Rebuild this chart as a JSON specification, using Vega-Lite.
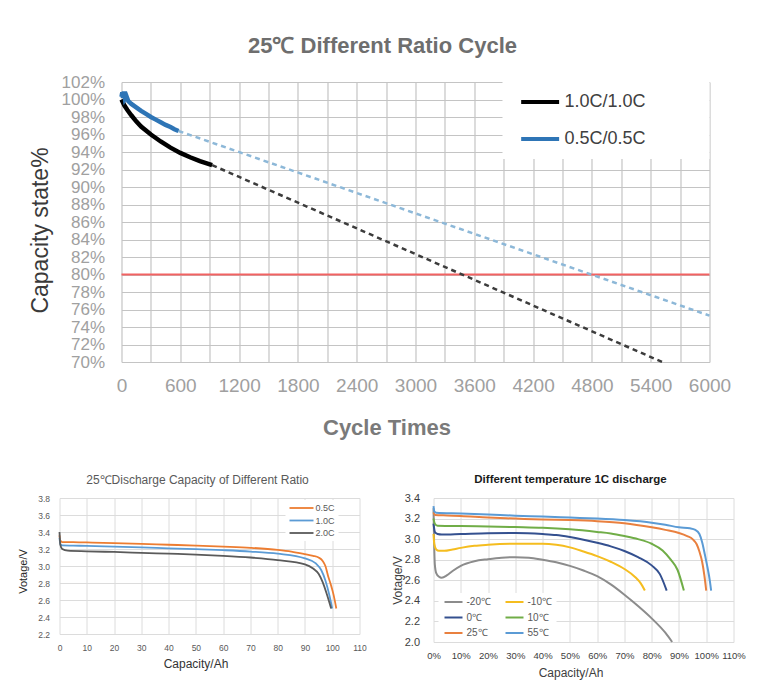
{
  "$schema": "https://vega.github.io/schema/vega-lite/v6.json",
  "background": "white",
  "padding": {"left": 17.5, "top": 35, "right": 5, "bottom": 5},
  "config": {
    "font": "Liberation Sans",
    "view": {"stroke": null},
    "axis": {"domain": false, "ticks": false, "grid": true, "labelFlush": false, "labelOverlap": false, "tickCount": 100, "titleAlign": "center", "titleBaseline": "middle", "titleFontWeight": "normal"}
  },
  "datasets": {
    "cycle": [
      {"series": "1.0C/1.0C", "kind": "measured", "cycle": 0, "capacity": 100},
      {"series": "1.0C/1.0C", "kind": "measured", "cycle": 30, "capacity": 99.3},
      {"series": "1.0C/1.0C", "kind": "measured", "cycle": 60, "capacity": 98.8},
      {"series": "1.0C/1.0C", "kind": "measured", "cycle": 100, "capacity": 98.2},
      {"series": "1.0C/1.0C", "kind": "measured", "cycle": 150, "capacity": 97.5},
      {"series": "1.0C/1.0C", "kind": "measured", "cycle": 200, "capacity": 96.9},
      {"series": "1.0C/1.0C", "kind": "measured", "cycle": 300, "capacity": 96.0},
      {"series": "1.0C/1.0C", "kind": "measured", "cycle": 400, "capacity": 95.2},
      {"series": "1.0C/1.0C", "kind": "measured", "cycle": 500, "capacity": 94.5},
      {"series": "1.0C/1.0C", "kind": "measured", "cycle": 600, "capacity": 93.9},
      {"series": "1.0C/1.0C", "kind": "measured", "cycle": 700, "capacity": 93.4},
      {"series": "1.0C/1.0C", "kind": "measured", "cycle": 800, "capacity": 92.95},
      {"series": "1.0C/1.0C", "kind": "measured", "cycle": 925, "capacity": 92.5},
      {"series": "0.5C/0.5C", "kind": "measured", "cycle": 0, "capacity": 100.3},
      {"series": "0.5C/0.5C", "kind": "measured", "cycle": 8, "capacity": 100.8},
      {"series": "0.5C/0.5C", "kind": "measured", "cycle": 15, "capacity": 100.2},
      {"series": "0.5C/0.5C", "kind": "measured", "cycle": 25, "capacity": 100.9},
      {"series": "0.5C/0.5C", "kind": "measured", "cycle": 35, "capacity": 100.1},
      {"series": "0.5C/0.5C", "kind": "measured", "cycle": 50, "capacity": 100.4},
      {"series": "0.5C/0.5C", "kind": "measured", "cycle": 70, "capacity": 99.8},
      {"series": "0.5C/0.5C", "kind": "measured", "cycle": 100, "capacity": 99.5},
      {"series": "0.5C/0.5C", "kind": "measured", "cycle": 150, "capacity": 99.1},
      {"series": "0.5C/0.5C", "kind": "measured", "cycle": 200, "capacity": 98.7},
      {"series": "0.5C/0.5C", "kind": "measured", "cycle": 250, "capacity": 98.35},
      {"series": "0.5C/0.5C", "kind": "measured", "cycle": 300, "capacity": 98.0},
      {"series": "0.5C/0.5C", "kind": "measured", "cycle": 350, "capacity": 97.7},
      {"series": "0.5C/0.5C", "kind": "measured", "cycle": 400, "capacity": 97.4},
      {"series": "0.5C/0.5C", "kind": "measured", "cycle": 450, "capacity": 97.1},
      {"series": "0.5C/0.5C", "kind": "measured", "cycle": 500, "capacity": 96.85},
      {"series": "0.5C/0.5C", "kind": "measured", "cycle": 540, "capacity": 96.6},
      {"series": "0.5C/0.5C", "kind": "measured", "cycle": 582, "capacity": 96.4},
      {"series": "1.0C/1.0C", "kind": "trend", "cycle": 925, "capacity": 92.5},
      {"series": "1.0C/1.0C", "kind": "trend", "cycle": 5517, "capacity": 70},
      {"series": "0.5C/0.5C", "kind": "trend", "cycle": 582, "capacity": 96.4},
      {"series": "0.5C/0.5C", "kind": "trend", "cycle": 6000, "capacity": 75.3}
    ],
    "ratio": [
      {"rate": "0.5C", "cap": 0, "v": 3.36}, {"rate": "0.5C", "cap": 0.3, "v": 3.3}, {"rate": "0.5C", "cap": 1, "v": 3.282},
      {"rate": "0.5C", "cap": 5, "v": 3.28}, {"rate": "0.5C", "cap": 10, "v": 3.277}, {"rate": "0.5C", "cap": 20, "v": 3.27},
      {"rate": "0.5C", "cap": 30, "v": 3.26}, {"rate": "0.5C", "cap": 40, "v": 3.25}, {"rate": "0.5C", "cap": 50, "v": 3.24},
      {"rate": "0.5C", "cap": 60, "v": 3.228}, {"rate": "0.5C", "cap": 70, "v": 3.214}, {"rate": "0.5C", "cap": 80, "v": 3.19},
      {"rate": "0.5C", "cap": 85, "v": 3.17}, {"rate": "0.5C", "cap": 90, "v": 3.14}, {"rate": "0.5C", "cap": 93, "v": 3.12},
      {"rate": "0.5C", "cap": 95, "v": 3.1}, {"rate": "0.5C", "cap": 96.5, "v": 3.06}, {"rate": "0.5C", "cap": 97.5, "v": 3.0},
      {"rate": "0.5C", "cap": 98.5, "v": 2.88}, {"rate": "0.5C", "cap": 99.5, "v": 2.78}, {"rate": "0.5C", "cap": 100.5, "v": 2.66},
      {"rate": "0.5C", "cap": 101.5, "v": 2.5},
      {"rate": "1.0C", "cap": 0, "v": 3.33}, {"rate": "1.0C", "cap": 0.3, "v": 3.26}, {"rate": "1.0C", "cap": 1, "v": 3.243},
      {"rate": "1.0C", "cap": 5, "v": 3.24}, {"rate": "1.0C", "cap": 10, "v": 3.236}, {"rate": "1.0C", "cap": 20, "v": 3.228},
      {"rate": "1.0C", "cap": 30, "v": 3.218}, {"rate": "1.0C", "cap": 40, "v": 3.208}, {"rate": "1.0C", "cap": 50, "v": 3.198},
      {"rate": "1.0C", "cap": 60, "v": 3.186}, {"rate": "1.0C", "cap": 70, "v": 3.17}, {"rate": "1.0C", "cap": 80, "v": 3.145},
      {"rate": "1.0C", "cap": 90, "v": 3.09}, {"rate": "1.0C", "cap": 94, "v": 3.03}, {"rate": "1.0C", "cap": 96, "v": 2.95},
      {"rate": "1.0C", "cap": 97.5, "v": 2.83}, {"rate": "1.0C", "cap": 99, "v": 2.65}, {"rate": "1.0C", "cap": 100, "v": 2.5},
      {"rate": "2.0C", "cap": 0, "v": 3.4}, {"rate": "2.0C", "cap": 0.3, "v": 3.25}, {"rate": "2.0C", "cap": 1, "v": 3.2},
      {"rate": "2.0C", "cap": 3, "v": 3.18}, {"rate": "2.0C", "cap": 10, "v": 3.173}, {"rate": "2.0C", "cap": 20, "v": 3.165},
      {"rate": "2.0C", "cap": 30, "v": 3.155}, {"rate": "2.0C", "cap": 40, "v": 3.145}, {"rate": "2.0C", "cap": 50, "v": 3.135},
      {"rate": "2.0C", "cap": 60, "v": 3.12}, {"rate": "2.0C", "cap": 70, "v": 3.1}, {"rate": "2.0C", "cap": 80, "v": 3.07},
      {"rate": "2.0C", "cap": 90, "v": 3.02}, {"rate": "2.0C", "cap": 93, "v": 2.97}, {"rate": "2.0C", "cap": 95, "v": 2.91},
      {"rate": "2.0C", "cap": 96.5, "v": 2.81}, {"rate": "2.0C", "cap": 98, "v": 2.67}, {"rate": "2.0C", "cap": 99.6, "v": 2.5}
    ],
    "temp": [
      {"t": "-20℃", "pct": 0, "v": 3.3}, {"t": "-20℃", "pct": 0.2, "v": 3.0}, {"t": "-20℃", "pct": 0.5, "v": 2.75},
      {"t": "-20℃", "pct": 1, "v": 2.67}, {"t": "-20℃", "pct": 2, "v": 2.635}, {"t": "-20℃", "pct": 3, "v": 2.625},
      {"t": "-20℃", "pct": 5, "v": 2.65}, {"t": "-20℃", "pct": 7, "v": 2.69}, {"t": "-20℃", "pct": 10, "v": 2.74},
      {"t": "-20℃", "pct": 15, "v": 2.785}, {"t": "-20℃", "pct": 20, "v": 2.805}, {"t": "-20℃", "pct": 25, "v": 2.82},
      {"t": "-20℃", "pct": 30, "v": 2.825}, {"t": "-20℃", "pct": 35, "v": 2.82}, {"t": "-20℃", "pct": 40, "v": 2.8},
      {"t": "-20℃", "pct": 45, "v": 2.775}, {"t": "-20℃", "pct": 50, "v": 2.74}, {"t": "-20℃", "pct": 55, "v": 2.695},
      {"t": "-20℃", "pct": 60, "v": 2.64}, {"t": "-20℃", "pct": 65, "v": 2.56}, {"t": "-20℃", "pct": 70, "v": 2.46},
      {"t": "-20℃", "pct": 75, "v": 2.35}, {"t": "-20℃", "pct": 80, "v": 2.23}, {"t": "-20℃", "pct": 85, "v": 2.09},
      {"t": "-20℃", "pct": 87.5, "v": 2.0},
      {"t": "-10℃", "pct": 0, "v": 3.05}, {"t": "-10℃", "pct": 0.3, "v": 2.95}, {"t": "-10℃", "pct": 1, "v": 2.9},
      {"t": "-10℃", "pct": 2, "v": 2.887}, {"t": "-10℃", "pct": 4, "v": 2.887}, {"t": "-10℃", "pct": 7, "v": 2.9},
      {"t": "-10℃", "pct": 10, "v": 2.915}, {"t": "-10℃", "pct": 15, "v": 2.935}, {"t": "-10℃", "pct": 20, "v": 2.945},
      {"t": "-10℃", "pct": 30, "v": 2.955}, {"t": "-10℃", "pct": 40, "v": 2.955}, {"t": "-10℃", "pct": 45, "v": 2.945},
      {"t": "-10℃", "pct": 50, "v": 2.92}, {"t": "-10℃", "pct": 55, "v": 2.88}, {"t": "-10℃", "pct": 60, "v": 2.835},
      {"t": "-10℃", "pct": 65, "v": 2.78}, {"t": "-10℃", "pct": 70, "v": 2.71}, {"t": "-10℃", "pct": 74, "v": 2.63},
      {"t": "-10℃", "pct": 76, "v": 2.57}, {"t": "-10℃", "pct": 77.5, "v": 2.5},
      {"t": "0℃", "pct": 0, "v": 3.15}, {"t": "0℃", "pct": 0.5, "v": 3.07}, {"t": "0℃", "pct": 1.5, "v": 3.05},
      {"t": "0℃", "pct": 3, "v": 3.045}, {"t": "0℃", "pct": 10, "v": 3.05}, {"t": "0℃", "pct": 20, "v": 3.058},
      {"t": "0℃", "pct": 30, "v": 3.06}, {"t": "0℃", "pct": 40, "v": 3.05}, {"t": "0℃", "pct": 45, "v": 3.04},
      {"t": "0℃", "pct": 50, "v": 3.02}, {"t": "0℃", "pct": 55, "v": 2.995}, {"t": "0℃", "pct": 60, "v": 2.965},
      {"t": "0℃", "pct": 65, "v": 2.93}, {"t": "0℃", "pct": 70, "v": 2.885}, {"t": "0℃", "pct": 75, "v": 2.825},
      {"t": "0℃", "pct": 80, "v": 2.745}, {"t": "0℃", "pct": 83, "v": 2.66}, {"t": "0℃", "pct": 85.5, "v": 2.5},
      {"t": "10℃", "pct": 0, "v": 3.2}, {"t": "10℃", "pct": 0.5, "v": 3.15}, {"t": "10℃", "pct": 1.5, "v": 3.13},
      {"t": "10℃", "pct": 5, "v": 3.128}, {"t": "10℃", "pct": 10, "v": 3.127}, {"t": "10℃", "pct": 20, "v": 3.123},
      {"t": "10℃", "pct": 30, "v": 3.117}, {"t": "10℃", "pct": 40, "v": 3.11}, {"t": "10℃", "pct": 50, "v": 3.095},
      {"t": "10℃", "pct": 60, "v": 3.07}, {"t": "10℃", "pct": 65, "v": 3.055}, {"t": "10℃", "pct": 70, "v": 3.03},
      {"t": "10℃", "pct": 75, "v": 3.0}, {"t": "10℃", "pct": 80, "v": 2.955}, {"t": "10℃", "pct": 84, "v": 2.89},
      {"t": "10℃", "pct": 87, "v": 2.8}, {"t": "10℃", "pct": 89.5, "v": 2.7}, {"t": "10℃", "pct": 91.8, "v": 2.5},
      {"t": "25℃", "pct": 0, "v": 3.26}, {"t": "25℃", "pct": 0.5, "v": 3.235}, {"t": "25℃", "pct": 5, "v": 3.23},
      {"t": "25℃", "pct": 10, "v": 3.225}, {"t": "25℃", "pct": 20, "v": 3.21}, {"t": "25℃", "pct": 30, "v": 3.2},
      {"t": "25℃", "pct": 40, "v": 3.19}, {"t": "25℃", "pct": 50, "v": 3.185}, {"t": "25℃", "pct": 60, "v": 3.175},
      {"t": "25℃", "pct": 70, "v": 3.155}, {"t": "25℃", "pct": 80, "v": 3.115}, {"t": "25℃", "pct": 85, "v": 3.09},
      {"t": "25℃", "pct": 90, "v": 3.06}, {"t": "25℃", "pct": 93, "v": 3.03}, {"t": "25℃", "pct": 95, "v": 3.0},
      {"t": "25℃", "pct": 96.5, "v": 2.95}, {"t": "25℃", "pct": 97.5, "v": 2.88}, {"t": "25℃", "pct": 98.5, "v": 2.78},
      {"t": "25℃", "pct": 99.3, "v": 2.65}, {"t": "25℃", "pct": 100, "v": 2.5},
      {"t": "55℃", "pct": 0, "v": 3.32}, {"t": "55℃", "pct": 0.3, "v": 3.27}, {"t": "55℃", "pct": 1, "v": 3.257},
      {"t": "55℃", "pct": 10, "v": 3.25}, {"t": "55℃", "pct": 20, "v": 3.24}, {"t": "55℃", "pct": 30, "v": 3.228},
      {"t": "55℃", "pct": 40, "v": 3.22}, {"t": "55℃", "pct": 50, "v": 3.21}, {"t": "55℃", "pct": 60, "v": 3.2},
      {"t": "55℃", "pct": 70, "v": 3.185}, {"t": "55℃", "pct": 80, "v": 3.16}, {"t": "55℃", "pct": 85, "v": 3.14},
      {"t": "55℃", "pct": 90, "v": 3.115}, {"t": "55℃", "pct": 94, "v": 3.105}, {"t": "55℃", "pct": 96, "v": 3.09},
      {"t": "55℃", "pct": 97.5, "v": 3.05}, {"t": "55℃", "pct": 98.5, "v": 2.97}, {"t": "55℃", "pct": 99.5, "v": 2.85},
      {"t": "55℃", "pct": 100.5, "v": 2.72}, {"t": "55℃", "pct": 101.3, "v": 2.6}, {"t": "55℃", "pct": 101.8, "v": 2.5}
    ]
  },
  "bounds": "flush",
  "spacing": 416,
  "resolve": {"scale": {"color": "independent"}, "legend": {"color": "independent"}},
  "vconcat": [
    {
      "bounds": "flush",
      "spacing": 0,
      "resolve": {"scale": {"color": "independent"}, "legend": {"color": "independent"}},
      "hconcat": [
        {"width": 62, "height": 280, "data": {"values": []}, "mark": "point"},
        {
          "width": 588,
          "height": 280,
          "title": {"text": "25℃ Different Ratio Cycle", "fontSize": 22, "fontWeight": "bold", "color": "#6e6e6e", "anchor": "middle", "frame": "group", "baseline": "alphabetic", "offset": -2, "dx": -33},
          "layer": [
            {
              "data": {"values": [{"capacity": 80}]},
              "mark": {"type": "rule", "color": "#f26262", "strokeWidth": 2},
              "encoding": {"y": {"field": "capacity", "type": "quantitative"}}
            },
            {
              "data": {"name": "cycle"},
              "transform": [{"filter": "datum.kind === 'trend'"}],
              "mark": {"type": "line", "strokeDash": [5, 4], "strokeWidth": 2.5},
              "encoding": {
                "x": {"field": "cycle", "type": "quantitative"},
                "y": {"field": "capacity", "type": "quantitative"},
                "detail": {"field": "series", "type": "nominal"},
                "color": {"condition": {"test": "datum.series === '1.0C/1.0C'", "value": "#3c3c3c"}, "value": "#8db8d8"}
              }
            },
            {
              "data": {"name": "cycle"},
              "transform": [{"filter": "datum.kind === 'measured'"}],
              "mark": {"type": "line", "strokeWidth": 4.5},
              "encoding": {
                "x": {
                  "field": "cycle", "type": "quantitative",
                  "scale": {"domain": [0, 6000], "nice": false, "zero": false},
                  "axis": {
                    "values": [0, 300, 600, 900, 1200, 1500, 1800, 2100, 2400, 2700, 3000, 3300, 3600, 3900, 4200, 4500, 4800, 5100, 5400, 5700, 6000],
                    "format": "d",
                    "labelExpr": "datum.value % 600 === 0 ? datum.label : ''",
                    "labelFontSize": 19, "labelColor": "#a0a0a0", "labelPadding": 14,
                    "gridColor": "#c4c4c4", "gridWidth": 1.2,
                    "title": "Cycle Times", "titleFontSize": 22, "titleFontWeight": "bold", "titleColor": "#7a7a7a",
                    "titleX": 265, "titleY": 65
                  }
                },
                "y": {
                  "field": "capacity", "type": "quantitative",
                  "scale": {"domain": [70, 102], "nice": false, "zero": false},
                  "axis": {
                    "values": [70, 72, 74, 76, 78, 80, 82, 84, 86, 88, 90, 92, 94, 96, 98, 100, 102],
                    "labelExpr": "datum.value + '%'",
                    "labelFontSize": 17, "labelColor": "#a0a0a0", "labelPadding": 17,
                    "gridColor": "#c4c4c4", "gridWidth": 1.2,
                    "title": "Capacity state%", "titleFontSize": 23, "titleColor": "#3a3a3a",
                    "titleAngle": -90, "titleX": -81, "titleY": 148
                  }
                },
                "color": {
                  "field": "series", "type": "nominal",
                  "scale": {"domain": ["1.0C/1.0C", "0.5C/0.5C"], "range": ["#000000", "#2e75b6"]},
                  "legend": {
                    "title": null, "orient": "top-right", "offset": 0, "fillColor": "white", "padding": 11,
                    "symbolType": "M-1,0H5", "symbolSize": 160, "symbolStrokeWidth": 4, "symbolOffset": 5,
                    "labelFontSize": 18, "labelColor": "#404040", "labelOffset": 28, "rowPadding": 19,
                    "labelExpr": "datum.label + '\u2800\u2800\u2800\u2800'"
                  }
                }
              }
            }
          ]
        }
      ]
    },
    {
      "bounds": "flush",
      "spacing": 74,
      "resolve": {"scale": {"color": "independent"}, "legend": {"color": "independent"}},
      "hconcat": [
        {
          "width": 300,
          "height": 136,
          "title": {"text": "25℃Discharge Capacity of Different Ratio", "fontSize": 12, "fontWeight": "normal", "color": "#595959", "anchor": "middle", "frame": "group", "baseline": "alphabetic", "offset": -2, "dx": -12},
          "data": {"name": "ratio"},
          "mark": {"type": "line", "strokeWidth": 1.8, "interpolate": "monotone"},
          "encoding": {
            "x": {
              "field": "cap", "type": "quantitative",
              "scale": {"domain": [0, 110], "nice": false},
              "axis": {
                "values": [0, 10, 20, 30, 40, 50, 60, 70, 80, 90, 100, 110],
                "labelFontSize": 8.5, "labelColor": "#595959", "labelPadding": 9,
                "gridColor": "#dcdcdc", "gridWidth": 1,
                "title": "Capacity/Ah", "titleFontSize": 12, "titleColor": "#333333",
                "titleX": 136, "titleY": 29
              }
            },
            "y": {
              "field": "v", "type": "quantitative",
              "scale": {"domain": [2.2, 3.8], "nice": false, "zero": false},
              "axis": {
                "values": [2.2, 2.4, 2.6, 2.8, 3.0, 3.2, 3.4, 3.6, 3.8],
                "format": ".1f",
                "labelFontSize": 8.5, "labelColor": "#595959", "labelPadding": 10,
                "gridColor": "#dcdcdc", "gridWidth": 1,
                "title": "Votage/V", "titleFontSize": 11, "titleColor": "#262626",
                "titleAngle": -90, "titleX": -36, "titleY": 73
              }
            },
            "color": {
              "field": "rate", "type": "nominal",
              "scale": {"domain": ["0.5C", "1.0C", "2.0C"], "range": ["#ed7d31", "#5b9bd5", "#5a5a5a"]},
              "legend": {
                "title": null, "orient": "none", "legendX": 226, "legendY": 2, "fillColor": "white", "padding": 3,
                "symbolType": "M-1,0H5", "symbolSize": 64, "symbolStrokeWidth": 1.8,
                "labelFontSize": 9, "labelColor": "#595959", "labelOffset": 17, "rowPadding": 2.5
              }
            }
          }
        },
        {
          "width": 300,
          "height": 144,
          "title": {"text": "Different  temperature 1C discharge", "fontSize": 11.5, "fontWeight": "bold", "color": "#1a1a1a", "anchor": "middle", "frame": "group", "baseline": "alphabetic", "offset": -2, "dx": -13},
          "data": {"name": "temp"},
          "mark": {"type": "line", "strokeWidth": 2, "interpolate": "monotone"},
          "encoding": {
            "x": {
              "field": "pct", "type": "quantitative",
              "scale": {"domain": [0, 110], "nice": false},
              "axis": {
                "values": [0, 10, 20, 30, 40, 50, 60, 70, 80, 90, 100, 110],
                "labelExpr": "datum.value + '%'",
                "labelFontSize": 9.5, "labelColor": "#404040", "labelPadding": 8,
                "gridColor": "#dcdcdc", "gridWidth": 1,
                "title": "Capacity/Ah", "titleFontSize": 12, "titleColor": "#404040",
                "titleX": 137, "titleY": 30
              }
            },
            "y": {
              "field": "v", "type": "quantitative",
              "scale": {"domain": [2.0, 3.4], "nice": false, "zero": false},
              "axis": {
                "values": [2.0, 2.2, 2.4, 2.6, 2.8, 3.0, 3.2, 3.4],
                "format": ".1f",
                "labelFontSize": 11, "labelColor": "#404040", "labelPadding": 14,
                "gridColor": "#dcdcdc", "gridWidth": 1,
                "title": "Votage/V", "titleFontSize": 12, "titleColor": "#404040",
                "titleAngle": -90, "titleX": -36, "titleY": 82
              }
            },
            "color": {
              "field": "t", "type": "nominal",
              "scale": {"domain": ["-20℃", "0℃", "25℃", "-10℃", "10℃", "55℃"], "range": ["#8c8c8c", "#34508f", "#e9803f", "#f5bd1f", "#70ad47", "#5b9bd5"]},
              "legend": {
                "title": null, "orient": "none", "legendX": 5, "legendY": 95, "columns": 2, "columnPadding": 10,
                "fillColor": "white", "padding": 4,
                "symbolType": "M-1,0H5", "symbolSize": 36, "symbolStrokeWidth": 2,
                "labelFontSize": 10, "labelColor": "#595959", "labelOffset": 14, "rowPadding": 5.5
              }
            }
          }
        }
      ]
    }
  ]
}
